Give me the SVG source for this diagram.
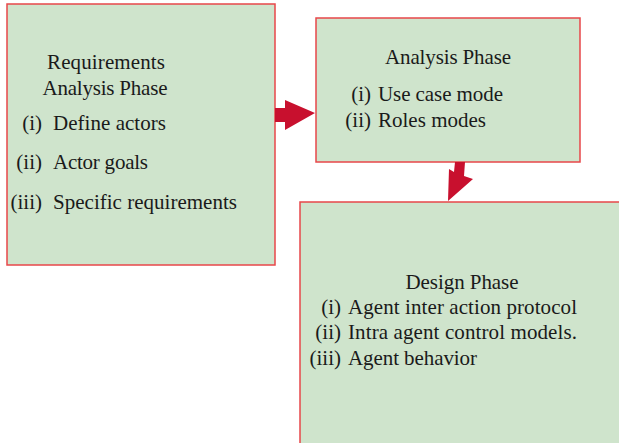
<svg xmlns="http://www.w3.org/2000/svg" width="619" height="443" viewBox="0 0 619 443">
  <style>
    .box { fill: #cfe4cc; stroke: #e8474a; stroke-width: 1.5; }
    .arrow { fill: #c8102e; stroke: none; }
    text { font-family: "Liberation Serif", "Times New Roman", serif; font-size: 21px; fill: #1a1a1a; }
    .c { text-anchor: middle; }
    .r { text-anchor: end; }
  </style>

  <!-- Phase boxes -->
  <g id="requirements-phase">
    <rect class="box" x="7" y="4" width="268" height="261"/>
    <text class="c" x="106" y="69" textLength="118">Requirements</text>
    <text class="c" x="105" y="95" textLength="125">Analysis Phase</text>
    <text class="r" x="42" y="130">(i)</text>
    <text x="53" y="130" textLength="113">Define actors</text>
    <text class="r" x="42" y="169">(ii)</text>
    <text x="53" y="169" textLength="95">Actor goals</text>
    <text class="r" x="42" y="209">(iii)</text>
    <text x="53" y="209" textLength="184">Specific requirements</text>
  </g>

  <g id="analysis-phase">
    <rect class="box" x="316" y="18" width="264" height="144"/>
    <text class="c" x="448" y="64" textLength="126">Analysis Phase</text>
    <text class="r" x="371" y="101">(i)</text>
    <text x="378" y="101" textLength="125">Use case mode</text>
    <text class="r" x="371" y="127">(ii)</text>
    <text x="378" y="127" textLength="108">Roles modes</text>
  </g>

  <g id="design-phase">
    <rect class="box" x="300" y="202" width="325" height="245"/>
    <text class="c" x="462" y="289" textLength="113">Design Phase</text>
    <text class="r" x="341" y="314">(i)</text>
    <text x="348" y="314" textLength="229">Agent inter action protocol</text>
    <text class="r" x="341" y="339">(ii)</text>
    <text x="348" y="339" textLength="229">Intra agent control models.</text>
    <text class="r" x="341" y="365">(iii)</text>
    <text x="348" y="365" textLength="129">Agent behavior</text>
  </g>

  <!-- Connectors -->
  <g id="connectors">
    <polygon class="arrow" points="275,108 285,108 285,100 315,113 285,130 285,122 275,122"/>
    <polygon class="arrow" points="455,162 465,162 464,176 473,179 448,201 449,169 454,172"/>
  </g>
</svg>
